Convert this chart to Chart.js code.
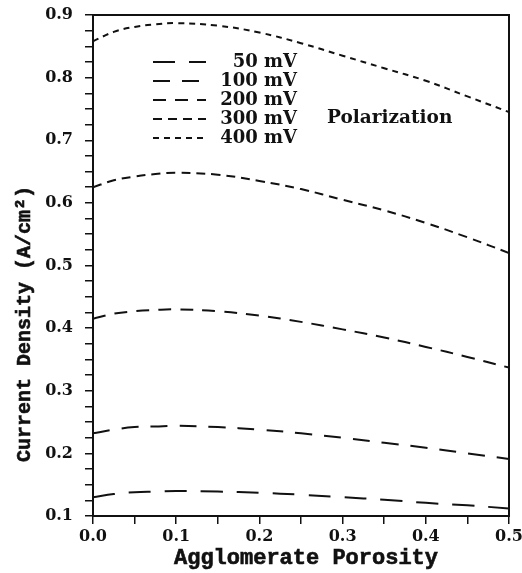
<!DOCTYPE html>
<html>
<head>
<meta charset="utf-8">
<script src="https://cdn.jsdelivr.net/npm/chart.js@4"></script>
<style>
  html, body { margin: 0; padding: 0; background: #fff; }
  #wrap { width: 522px; height: 573px; }
</style>
</head>
<body>
<div id="wrap"><canvas id="chart" width="522" height="573"></canvas></div>
<script>
// porosity values along x
const porosity = [0, 0.025, 0.05, 0.075, 0.1, 0.15, 0.2, 0.25, 0.3, 0.35, 0.4, 0.45, 0.5];

// current density for each polarization (A/cm2)
const mv50  = [0.130, 0.135, 0.138, 0.139, 0.140, 0.139, 0.137, 0.134, 0.130, 0.126, 0.121, 0.117, 0.112];
const mv100 = [0.232, 0.238, 0.242, 0.243, 0.244, 0.242, 0.238, 0.232, 0.225, 0.217, 0.209, 0.200, 0.191];
const mv200 = [0.415, 0.423, 0.427, 0.429, 0.430, 0.427, 0.420, 0.410, 0.398, 0.385, 0.370, 0.354, 0.337];
const mv300 = [0.625, 0.636, 0.642, 0.646, 0.648, 0.645, 0.635, 0.622, 0.605, 0.588, 0.568, 0.545, 0.520];
const mv400 = [0.858, 0.873, 0.881, 0.885, 0.887, 0.883, 0.872, 0.855, 0.835, 0.815, 0.795, 0.770, 0.745];

const seriesNames = ['50 mV', '100 mV', '200 mV', '300 mV', '400 mV'];
const seriesValues = [mv50, mv100, mv200, mv300, mv400];
const dashes = [[22, 14], [17, 12], [13, 9], [9, 6], [6, 5]];

const xTitle = 'Agglomerate Porosity';
const yTitle = 'Current Density (A/cm²)';
const noteText = 'Polarization';

const ink = '#111';

const datasets = seriesNames.map((name, i) => ({
  label: name,
  data: porosity.map((p, j) => ({ x: p, y: seriesValues[i][j] })),
  borderColor: ink,
  borderWidth: 2,
  borderDash: dashes[i],
  pointRadius: 0,
  tension: 0.4,
  fill: false
}));

const isMajor = (v, step) => Math.abs(v / step - Math.round(v / step)) < 1e-6;

const frameAndLegend = {
  id: 'frameAndLegend',
  afterDraw(chart) {
    const ctx = chart.ctx;
    const a = chart.chartArea;
    ctx.save();
    ctx.strokeStyle = ink;
    ctx.fillStyle = ink;
    ctx.lineWidth = 2;
    ctx.strokeRect(a.left, a.top, a.right - a.left, a.bottom - a.top);

    // in-plot legend
    const rows = [62, 81, 100, 119, 138];
    ctx.font = 'bold 18px "DejaVu Serif"';
    ctx.textBaseline = 'middle';
    seriesNames.forEach((name, i) => {
      ctx.beginPath();
      ctx.setLineDash(dashes[i]);
      ctx.lineWidth = 2;
      ctx.moveTo(153, rows[i]);
      ctx.lineTo(206, rows[i]);
      ctx.stroke();
      ctx.setLineDash([]);
      ctx.textAlign = 'right';
      ctx.fillText(name, 297, rows[i]);
    });
    ctx.textAlign = 'left';
    ctx.font = 'bold 18.5px "DejaVu Serif"';
    ctx.fillText(noteText, 327, 118);

    // axis titles
    ctx.lineWidth = 0.6;
    ctx.textAlign = 'center';
    ctx.font = 'bold 22px "Liberation Mono"';
    ctx.fillText(xTitle, 306, 558);
    ctx.strokeText(xTitle, 306, 558);

    ctx.translate(25, 324);
    ctx.rotate(-Math.PI / 2);
    ctx.font = 'bold 20px "Liberation Mono"';
    ctx.fillText(yTitle, 0, 0);
    ctx.strokeText(yTitle, 0, 0);
    ctx.restore();
  }
};

new Chart(document.getElementById('chart'), {
  type: 'line',
  data: { datasets: datasets },
  options: {
    responsive: false,
    animation: false,
    layout: { padding: { top: 15, right: 13, left: 0, bottom: 0 } },
    plugins: {
      legend: { display: false },
      tooltip: { enabled: false }
    },
    scales: {
      x: {
        type: 'linear',
        min: 0,
        max: 0.5,
        afterFit(scale) {
          scale.height = 57;
          scale.paddingLeft = 0;
          scale.paddingRight = 0;
        },
        ticks: {
          stepSize: 0.05,
          autoSkip: false,
          maxRotation: 0,
          padding: 3,
          color: ink,
          font: { family: 'DejaVu Serif', weight: 'bold', size: 16 },
          callback: v => isMajor(v, 0.1) ? v.toFixed(1) : ''
        },
        grid: { display: true, drawOnChartArea: false, drawTicks: true, tickLength: 8, color: ink, lineWidth: 1.5 },
        border: { display: true, color: ink, width: 2 }
      },
      y: {
        min: 0.1,
        max: 0.9,
        afterFit(scale) {
          scale.width = 93;
          scale.paddingTop = 0;
          scale.paddingBottom = 0;
        },
        ticks: {
          stepSize: 0.025,
          autoSkip: false,
          padding: 12,
          color: ink,
          font: { family: 'DejaVu Serif', weight: 'bold', size: 16 },
          callback: v => isMajor(v, 0.1) ? v.toFixed(1) : ''
        },
        grid: { display: true, drawOnChartArea: false, drawTicks: true, tickLength: 8, color: ink, lineWidth: 1.5 },
        border: { display: true, color: ink, width: 2 }
      }
    }
  },
  plugins: [frameAndLegend]
});
</script>
</body>
</html>
